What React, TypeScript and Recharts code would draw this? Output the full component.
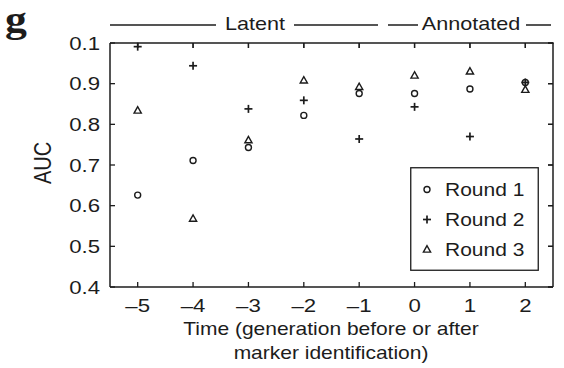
import React from "react";
import { ScatterChart, Scatter, XAxis, YAxis } from "recharts";

const timePoints = [-5, -4, -3, -2, -1, 0, 1, 2];
const round1 = [0.626, 0.711, 0.743, 0.822, 0.876, 0.876, 0.887, 0.903];
const round2 = [0.991, 0.944, 0.838, 0.859, 0.764, 0.843, 0.77, 0.903];
const round3 = [0.834, 0.568, 0.761, 0.908, 0.892, 0.92, 0.93, 0.885];
const yTicks = [0.4, 0.5, 0.6, 0.7, 0.8, 0.9, 1.0];
const yTickLabels = ["0.4", "0.5", "0.6", "0.7", "0.8", "0.9", "0.1"];
const xTickLabels = ["–5", "–4", "–3", "–2", "–1", "0", "1", "2"];
const seriesNames = ["Round 1", "Round 2", "Round 3"];
const xDomain = [-5.5, 2.5];
const yDomain = [0.4, 1.0];

const toPoints = (vals: number[]) => timePoints.map((t, i) => ({ t, auc: vals[i] }));
const data1 = toPoints(round1);
const data2 = toPoints(round2);
const data3 = toPoints(round3);
const topTickData = timePoints.map((t) => ({ t, auc: yDomain[1] }));
const rightTickData = yTicks.map((v) => ({ t: xDomain[1], auc: v }));

const BOX = { left: 110, top: 43, right: 553, bottom: 287 };
const sx = (t: number) => BOX.left + ((t - xDomain[0]) / (xDomain[1] - xDomain[0])) * (BOX.right - BOX.left);
const sy = (v: number) => BOX.bottom - ((v - yDomain[0]) / (yDomain[1] - yDomain[0])) * (BOX.bottom - BOX.top);

const INK = "#1c1c1c";
const FONT = "'Liberation Sans', Arial, Helvetica, sans-serif";
const SX = 1.2;

const CircleMark = (props: any) => {
  const { cx, cy } = props;
  if (cx == null || cy == null) return null;
  return <circle cx={cx} cy={cy} r={3} fill="none" stroke={INK} strokeWidth={1.4} />;
};
const PlusMark = (props: any) => {
  const { cx, cy } = props;
  if (cx == null || cy == null) return null;
  return (
    <g stroke={INK} strokeWidth={1.7}>
      <line x1={cx - 4} x2={cx + 4} y1={cy} y2={cy} />
      <line x1={cx} x2={cx} y1={cy - 4} y2={cy + 4} />
    </g>
  );
};
const TriMark = (props: any) => {
  const { cx, cy } = props;
  if (cx == null || cy == null) return null;
  return (
    <polygon
      points={`${cx},${cy - 3.8} ${cx - 3.6},${cy + 2.6} ${cx + 3.6},${cy + 2.6}`}
      fill="none"
      stroke={INK}
      strokeWidth={1.4}
      strokeLinejoin="miter"
    />
  );
};
const TopTickMark = (props: any) => {
  const { cx, cy } = props;
  if (cx == null || cy == null) return null;
  return <line x1={cx} x2={cx} y1={cy} y2={cy + 5} stroke={INK} strokeWidth={1.3} />;
};
const RightTickMark = (props: any) => {
  const { cx, cy } = props;
  if (cx == null || cy == null) return null;
  return <line x1={cx} x2={cx - 5} y1={cy} y2={cy} stroke={INK} strokeWidth={1.3} />;
};

const BottomTick = (props: any) => {
  const { x, y, payload } = props;
  const idx = timePoints.indexOf(payload.value);
  return (
    <g>
      <line x1={x} x2={x} y1={y} y2={y - 5} stroke={INK} strokeWidth={1.3} />
      <g transform={`translate(${x},${y + 24.5}) scale(${SX},1)`}>
        <text x={0} y={0} textAnchor="middle" fontFamily={FONT} fontSize={18.5} fill={INK}>
          {idx >= 0 ? xTickLabels[idx] : String(payload.value)}
        </text>
      </g>
    </g>
  );
};
const LeftTick = (props: any) => {
  const { x, y, payload } = props;
  const idx = yTicks.findIndex((v) => Math.abs(v - payload.value) < 1e-9);
  return (
    <g>
      <line x1={x} x2={x + 5} y1={y} y2={y} stroke={INK} strokeWidth={1.3} />
      <g transform={`translate(${x - 10},${y + 6.6}) scale(${SX},1)`}>
        <text x={0} y={0} textAnchor="end" fontFamily={FONT} fontSize={18.5} fill={INK}>
          {idx >= 0 ? yTickLabels[idx] : String(payload.value)}
        </text>
      </g>
    </g>
  );
};

const marks = [CircleMark, PlusMark, TriMark];

export default function App() {
  return (
    <div style={{ position: "absolute", left: 0, top: 0, width: 564, height: 368, background: "#fff" }}>
      <ScatterChart
        width={564}
        height={368}
        margin={{ top: BOX.top, right: 564 - BOX.right, bottom: 0, left: 0 }}
      >
        <XAxis
          dataKey="t"
          type="number"
          domain={xDomain}
          ticks={timePoints}
          height={368 - BOX.bottom}
          tickSize={0}
          tickMargin={0}
          tickLine={false}
          axisLine={{ stroke: INK, strokeWidth: 1.5 }}
          tick={<BottomTick />}
          interval={0}
        />
        <YAxis
          dataKey="auc"
          type="number"
          domain={yDomain}
          ticks={yTicks}
          width={BOX.left}
          tickSize={0}
          tickMargin={0}
          tickLine={false}
          axisLine={{ stroke: INK, strokeWidth: 1.5 }}
          tick={<LeftTick />}
          interval={0}
        />
        <Scatter name={seriesNames[0]} data={data1} shape={<CircleMark />} isAnimationActive={false} />
        <Scatter name={seriesNames[1]} data={data2} shape={<PlusMark />} isAnimationActive={false} />
        <Scatter name={seriesNames[2]} data={data3} shape={<TriMark />} isAnimationActive={false} />
        <Scatter name="top ticks" data={topTickData} shape={<TopTickMark />} isAnimationActive={false} />
        <Scatter name="right ticks" data={rightTickData} shape={<RightTickMark />} isAnimationActive={false} />
      </ScatterChart>
      <svg
        width={564}
        height={368}
        style={{ position: "absolute", left: 0, top: 0, pointerEvents: "none" }}
      >
        <line x1={BOX.left} x2={BOX.right + 0.75} y1={BOX.top} y2={BOX.top} stroke={INK} strokeWidth={1.5} />
        <line x1={BOX.right} x2={BOX.right} y1={BOX.top} y2={BOX.bottom} stroke={INK} strokeWidth={1.5} />
        <g stroke={INK} strokeWidth={1.3}>
          {timePoints.map((t) => (
            <line key={`tt${t}`} x1={sx(t)} x2={sx(t)} y1={BOX.top} y2={BOX.top + 5} />
          ))}
          {yTicks.map((v) => (
            <line key={`rt${v}`} x1={BOX.right} x2={BOX.right - 5} y1={sy(v)} y2={sy(v)} />
          ))}
        </g>
        <g transform="translate(5,32) scale(1.15,1)">
          <text x={0} y={0} fontFamily="'Liberation Serif', 'Times New Roman', serif" fontWeight="bold" fontSize={38} fill={INK}>
            g
          </text>
        </g>
        <g stroke={INK} strokeWidth={1.5}>
          <line x1={110} x2={216} y1={25} y2={25} />
          <line x1={294} x2={378} y1={25} y2={25} />
          <line x1={388} x2={418} y1={25} y2={25} />
          <line x1={526} x2={551} y1={25} y2={25} />
        </g>
        <g transform={`translate(255,29.5) scale(${SX},1)`}>
          <text x={0} y={0} textAnchor="middle" fontFamily={FONT} fontSize={18} fill={INK}>
            Latent
          </text>
        </g>
        <g transform={`translate(471,29.5) scale(${SX},1)`}>
          <text x={0} y={0} textAnchor="middle" fontFamily={FONT} fontSize={18} fill={INK}>
            Annotated
          </text>
        </g>
        <g transform={`translate(51,163) rotate(-90) scale(1,1.2)`}>
          <text x={0} y={0} textAnchor="middle" fontFamily={FONT} fontSize={20} fill={INK}>
            AUC
          </text>
        </g>
        <g transform={`translate(331,334.5) scale(${SX},1)`}>
          <text x={0} y={0} textAnchor="middle" fontFamily={FONT} fontSize={17.5} fill={INK}>
            Time (generation before or after
          </text>
        </g>
        <g transform={`translate(331,359) scale(${SX},1)`}>
          <text x={0} y={0} textAnchor="middle" fontFamily={FONT} fontSize={17.5} fill={INK}>
            marker identification)
          </text>
        </g>
        <g transform="translate(410,167)">
          <rect x={0.75} y={0.75} width={127.5} height={102.5} fill="#fff" stroke={INK} strokeWidth={1.3} />
          {seriesNames.map((name, i) => {
            const M = marks[i];
            const cy = 22.5 + i * 30;
            return (
              <g key={name}>
                <M cx={17} cy={cy} />
                <g transform={`translate(35,${cy + 6.4}) scale(${SX},1)`}>
                  <text x={0} y={0} fontFamily={FONT} fontSize={17.5} fill={INK}>
                    {name}
                  </text>
                </g>
              </g>
            );
          })}
        </g>
      </svg>
    </div>
  );
}
